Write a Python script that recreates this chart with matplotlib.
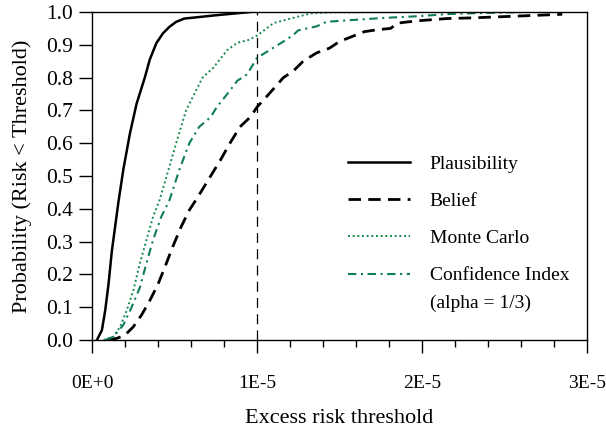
import matplotlib
matplotlib.use("Agg")
import matplotlib.pyplot as plt
import numpy as np

plt.rcParams['font.family'] = ['Liberation Serif', 'DejaVu Serif']

SCALE = 1e-5

plaus_x = [0.03, 0.06, 0.08, 0.10, 0.12, 0.14, 0.16, 0.19, 0.23, 0.27, 0.32, 0.35, 0.39, 0.43, 0.47, 0.51, 0.56, 0.75, 0.96]
plaus_y = [0.0, 0.03, 0.09, 0.17, 0.27, 0.345, 0.42, 0.52, 0.63, 0.72, 0.80, 0.855, 0.905, 0.935, 0.955, 0.97, 0.98, 0.99, 1.0]

belief_x = [0.10, 0.15, 0.20, 0.25, 0.30, 0.35, 0.40, 0.44, 0.49, 0.54, 0.59, 0.63, 0.695, 0.78, 0.836, 0.897, 0.96, 1.0, 1.06, 1.16, 1.22, 1.28, 1.36, 1.44, 1.50, 1.60, 1.65, 1.73, 1.81, 1.85, 1.97, 2.15, 2.3, 2.6, 2.85]
belief_y = [0.0, 0.005, 0.015, 0.04, 0.076, 0.12, 0.17, 0.22, 0.285, 0.345, 0.396, 0.427, 0.48, 0.55, 0.60, 0.65, 0.68, 0.71, 0.743, 0.80, 0.82, 0.85, 0.875, 0.89, 0.91, 0.93, 0.94, 0.946, 0.95, 0.966, 0.973, 0.98, 0.982, 0.988, 0.993]

mc_x = [0.07, 0.13, 0.17, 0.21, 0.25, 0.29, 0.33, 0.37, 0.41, 0.47, 0.51, 0.57, 0.63, 0.67, 0.735, 0.82, 0.88, 0.95, 1.0, 1.10, 1.21, 1.33, 1.45, 2.0]
mc_y = [0.0, 0.01, 0.04, 0.09, 0.15, 0.234, 0.305, 0.376, 0.427, 0.53, 0.60, 0.70, 0.76, 0.80, 0.83, 0.884, 0.906, 0.915, 0.928, 0.966, 0.981, 0.996, 0.999, 1.0]

ci_x = [0.08, 0.13, 0.19, 0.24, 0.29, 0.33, 0.37, 0.42, 0.47, 0.53, 0.59, 0.65, 0.72, 0.756, 0.82, 0.88, 0.94, 1.0, 1.08, 1.16, 1.22, 1.25, 1.36, 1.42, 1.56, 1.77, 1.97, 2.17, 2.3, 2.65]
ci_y = [0.0, 0.01, 0.046, 0.10, 0.16, 0.234, 0.305, 0.376, 0.427, 0.52, 0.60, 0.65, 0.68, 0.71, 0.75, 0.79, 0.81, 0.86, 0.885, 0.91, 0.93, 0.944, 0.956, 0.97, 0.975, 0.982, 0.987, 0.994, 0.996, 1.0]

xticks = [0, 1, 2, 3]
xtick_labels = ['0E+0', '1E-5', '2E-5', '3E-5']
yticks = [0.0, 0.1, 0.2, 0.3, 0.4, 0.5, 0.6, 0.7, 0.8, 0.9, 1.0]
threshold = 1.0

GREEN_MC = '#168a4e'
GREEN_CI = '#0f7d57'

fig = plt.figure(figsize=(6.06, 4.29), dpi=100)
ax = fig.add_axes([92/606, 1-340/429, 495/606, 328/429])

def sx(v):
    return np.asarray(v) * SCALE

ax.axvline(threshold * SCALE, color='black', lw=0.9, linestyle=(0, (8, 5)), zorder=1)
ax.plot(sx(plaus_x), plaus_y, color='black', lw=1.8, solid_joinstyle='round', label='Plausibility')
ax.plot(sx(belief_x), belief_y, color='black', lw=2.0, linestyle=(0, (4.5, 2.6)), label='Belief')
ax.plot(sx(mc_x), mc_y, color=GREEN_MC, lw=1.4, linestyle=(0, (1, 1.4)), label='Monte Carlo')
ax.plot(sx(ci_x), ci_y, color=GREEN_CI, lw=1.5, linestyle=(0, (4, 2.2, 1, 2.2)), label='Confidence Index')

ax.set_xlim(0, 3 * SCALE)
ax.set_ylim(0, 1)
ax.set_xticks(sx(xticks))
ax.set_xticklabels(xtick_labels)
ax.set_xticks(sx(np.arange(0, 3.01, 0.2)), minor=True)
ax.set_yticks(yticks)
ax.set_yticklabels([f'{v:.1f}' for v in yticks])

ax.tick_params(axis='x', which='major', direction='out', length=9.5, width=1.0, pad=16, labelsize=14)
ax.tick_params(axis='x', which='minor', direction='out', length=5, width=1.0)
ax.tick_params(axis='y', which='major', direction='out', length=9.5, width=1.0, pad=4, labelsize=15.5)
for s in ax.spines.values():
    s.set_linewidth(1.0)
    s.set_color('black')

ax.set_xlabel('Excess risk threshold', fontsize=16, labelpad=12)
ax.set_ylabel('Probability (Risk < Threshold)', fontsize=16, labelpad=10)

leg = ax.legend(loc='center left', bbox_to_anchor=(0.517, 0.366), frameon=False,
                fontsize=14, handlelength=3.2, handletextpad=1.0, labelspacing=1.0,
                borderpad=0, borderaxespad=0)
ax.text(0.683, 0.113, '(alpha = 1/3)', transform=ax.transAxes, fontsize=14,
        ha='left', va='center')

fig.savefig('out.png', dpi=100)
